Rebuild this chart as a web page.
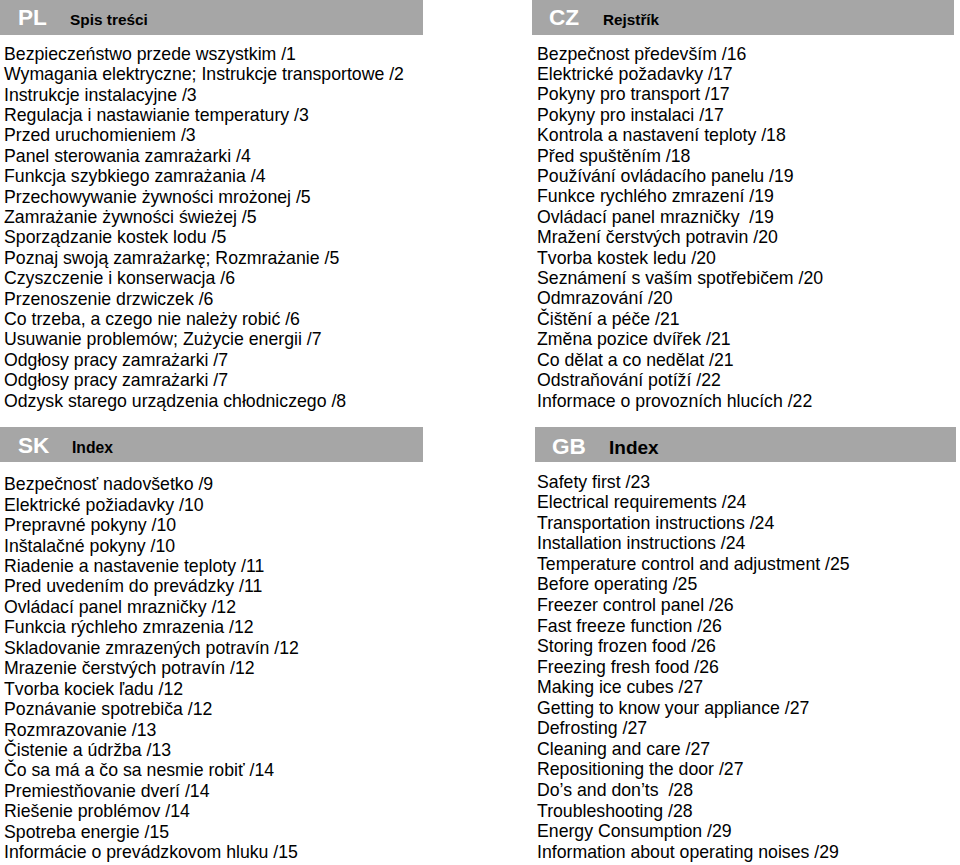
<!DOCTYPE html>
<html>
<head>
<meta charset="utf-8">
<script src="https://cdn.jsdelivr.net/npm/chart.js@4"></script>
<style>
  body { margin: 0; width: 960px; height: 865px; background: #fff; position: relative; overflow: hidden;
         font-family: "Liberation Sans", Arial, sans-serif; color: #000; }
  .head { position: absolute; height: 35px; background: #a6a6a6; }
  .code { position: absolute; color: #fff; font-weight: bold; font-size: 22.6px; line-height: normal; }
  .title { position: absolute; font-weight: bold; line-height: normal; }
  .list { position: absolute; font-size: 17.7px; white-space: pre; }
</style>
</head>
<body>
<div id="page"></div>
<script>
// Table of contents entries per language
const plEntries = [
  'Bezpieczeństwo przede wszystkim /1',
  'Wymagania elektryczne; Instrukcje transportowe /2',
  'Instrukcje instalacyjne /3',
  'Regulacja i nastawianie temperatury /3',
  'Przed uruchomieniem /3',
  'Panel sterowania zamrażarki /4',
  'Funkcja szybkiego zamrażania /4',
  'Przechowywanie żywności mrożonej /5',
  'Zamrażanie żywności świeżej /5',
  'Sporządzanie kostek lodu /5',
  'Poznaj swoją zamrażarkę; Rozmrażanie /5',
  'Czyszczenie i konserwacja /6',
  'Przenoszenie drzwiczek /6',
  'Co trzeba, a czego nie należy robić /6',
  'Usuwanie problemów; Zużycie energii /7',
  'Odgłosy pracy zamrażarki /7',
  'Odgłosy pracy zamrażarki /7',
  'Odzysk starego urządzenia chłodniczego /8'
];
const czEntries = [
  'Bezpečnost především /16',
  'Elektrické požadavky /17',
  'Pokyny pro transport /17',
  'Pokyny pro instalaci /17',
  'Kontrola a nastavení teploty /18',
  'Před spuštěním /18',
  'Používání ovládacího panelu /19',
  'Funkce rychlého zmrazení /19',
  'Ovládací panel mrazničky  /19',
  'Mražení čerstvých potravin /20',
  'Tvorba kostek ledu /20',
  'Seznámení s vaším spotřebičem /20',
  'Odmrazování /20',
  'Čištění a péče /21',
  'Změna pozice dvířek /21',
  'Co dělat a co nedělat /21',
  'Odstraňování potíží /22',
  'Informace o provozních hlucích /22'
];
const skEntries = [
  'Bezpečnosť nadovšetko /9',
  'Elektrické požiadavky /10',
  'Prepravné pokyny /10',
  'Inštalačné pokyny /10',
  'Riadenie a nastavenie teploty /11',
  'Pred uvedením do prevádzky /11',
  'Ovládací panel mrazničky /12',
  'Funkcia rýchleho zmrazenia /12',
  'Skladovanie zmrazených potravín /12',
  'Mrazenie čerstvých potravín /12',
  'Tvorba kociek ľadu /12',
  'Poznávanie spotrebiča /12',
  'Rozmrazovanie /13',
  'Čistenie a údržba /13',
  'Čo sa má a čo sa nesmie robiť /14',
  'Premiestňovanie dverí /14',
  'Riešenie problémov /14',
  'Spotreba energie /15',
  'Informácie o prevádzkovom hluku /15'
];
const gbEntries = [
  'Safety first /23',
  'Electrical requirements /24',
  'Transportation instructions /24',
  'Installation instructions /24',
  'Temperature control and adjustment /25',
  'Before operating /25',
  'Freezer control panel /26',
  'Fast freeze function /26',
  'Storing frozen food /26',
  'Freezing fresh food /26',
  'Making ice cubes /27',
  'Getting to know your appliance /27',
  'Defrosting /27',
  'Cleaning and care /27',
  'Repositioning the door /27',
  'Do’s and don’ts  /28',
  'Troubleshooting /28',
  'Energy Consumption /29',
  'Information about operating noises /29'
];
const codes = ['PL', 'CZ', 'SK', 'GB'];
const titles = ['Spis treści', 'Rejstřík', 'Index', 'Index'];

// Layout of the four blocks
const blocks = [
  { head: [0, 0, 423], codeX: 18, codeY: 4.5, titleX: 70, titleY: 11, titleSize: 15.4, listX: 4, listY: 43.7, pitch: 20.4, entries: plEntries },
  { head: [532, 0, 422], codeX: 17, codeY: 4.5, titleX: 71, titleY: 11, titleSize: 15.3, listX: 537, listY: 43.6, pitch: 20.4, entries: czEntries },
  { head: [0, 427, 423], codeX: 18, codeY: 5.5, titleX: 72, titleY: 12, titleSize: 15.7, listX: 4, listY: 474.3, pitch: 20.44, entries: skEntries },
  { head: [535, 427, 421], codeX: 17, codeY: 6.5, titleX: 74, titleY: 9.8, titleSize: 19, listX: 537, listY: 471.6, pitch: 20.56, entries: gbEntries }
];

const page = document.getElementById('page');
blocks.forEach((b, i) => {
  const head = document.createElement('div');
  head.className = 'head';
  head.style.left = b.head[0] + 'px';
  head.style.top = b.head[1] + 'px';
  head.style.width = b.head[2] + 'px';
  head.innerHTML = `<span class="code" style="left:${b.codeX}px;top:${b.codeY}px">${codes[i]}</span>` +
    `<span class="title" style="left:${b.titleX}px;top:${b.titleY}px;font-size:${b.titleSize}px">${titles[i]}</span>`;
  page.appendChild(head);

  const list = document.createElement('div');
  list.className = 'list';
  list.style.left = b.listX + 'px';
  list.style.top = b.listY + 'px';
  list.style.lineHeight = b.pitch + 'px';
  list.innerHTML = b.entries.map(t => `<div>${t}</div>`).join('');
  page.appendChild(list);
});
</script>
</body>
</html>
